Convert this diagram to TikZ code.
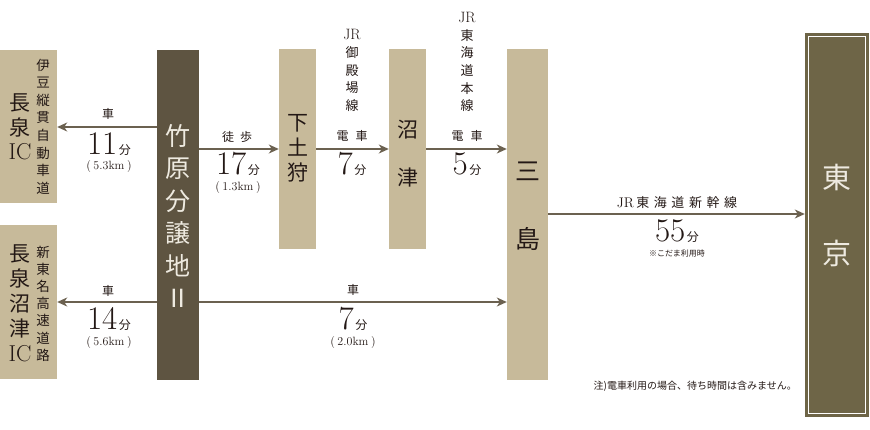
\documentclass[tikz,border=0pt]{standalone}
\usepackage{fontspec}
\newfontfamily\jp{Noto Sans CJK JP}
\usetikzlibrary{arrows.meta}
\definecolor{tanc}{HTML}{C7BA9A}
\definecolor{darkc}{HTML}{5E5441}
\definecolor{olivec}{HTML}{6E6547}
\definecolor{arrc}{HTML}{6B6150}
\definecolor{txtc}{HTML}{231815}
\definecolor{lightc}{HTML}{EEEAE0}
\newcommand{\bignum}[1]{{\fontsize{33}{33}\selectfont #1}\,{\jp\fontsize{12}{12}\selectfont 分}}
\newcommand{\distx}[1]{{\fontsize{12}{12}\selectfont (\hspace{2.5pt}#1\hspace{2.5pt})}}
\tikzset{
  rbox/.style={draw=none,inner sep=0pt,fill=#1},
  conn/.style={draw=arrc,line width=1.4pt,-{Stealth[length=10pt,width=9pt,inset=3pt]}},
  lbl/.style={inner sep=0pt,text=txtc,font=\jp\fontsize{12}{12}\selectfont},
  numl/.style={inner sep=0pt,text=txtc,anchor=base},
  vtext/.style={inner sep=0pt,align=center,text=txtc},
}
\begin{document}
\begin{tikzpicture}[x=1pt,y=-1pt]
\useasboundingbox (0,0) rectangle (870,430);
% boxes
\node[rbox=tanc,minimum width=57pt,minimum height=153pt] (ic1) at (28.5,126.5) {};
\node[rbox=tanc,minimum width=57pt,minimum height=154pt] (ic2) at (28.5,302) {};
\node[rbox=darkc,minimum width=42pt,minimum height=330pt] (site) at (178,215) {};
\node[rbox=tanc,minimum width=37pt,minimum height=200pt] (shimo) at (297.5,149) {};
\node[rbox=tanc,minimum width=37pt,minimum height=200pt] (numa) at (407.5,149) {};
\node[rbox=tanc,minimum width=41pt,minimum height=331pt] (mishima) at (527.5,214.5) {};
\node[rbox=olivec,minimum width=64pt,minimum height=384pt] (tokyo) at (837,225) {};
\draw[white,line width=0.9pt] ([shift={(3.5,3.5)}]tokyo.north west) rectangle ([shift={(-3.5,-3.5)}]tokyo.south east);
% box texts
\node[vtext,font=\jp\fontsize{21}{24.5}\selectfont] (ic1a) at (20,127) {長\\泉\\{\rmfamily\fontsize{23}{24}\selectfont IC}};
\node[vtext,font=\jp\fontsize{13.5}{17.6}\selectfont] (ic1b) at (43,126.5) {伊\\豆\\縦\\貫\\自\\動\\車\\道};
\node[vtext,font=\jp\fontsize{21}{25}\selectfont] (ic2a) at (20,303) {長\\泉\\沼\\津\\{\rmfamily\fontsize{23}{24}\selectfont IC}};
\node[vtext,font=\jp\fontsize{13.5}{17.2}\selectfont] (ic2b) at (43,303.5) {新\\東\\名\\高\\速\\道\\路};
\node[vtext,text=lightc,font=\jp\fontsize{25}{32.4}\selectfont] (sitet) at (178,216) {竹\\原\\分\\譲\\地\\Ⅱ};
\node[vtext,font=\jp\fontsize{21}{25}\selectfont] (shimot) at (297.5,148) {下\\土\\狩};
\node[vtext,font=\jp\fontsize{21}{48}\selectfont] (numat) at (407.5,154) {沼\\津};
\node[vtext,font=\jp\fontsize{25}{68}\selectfont] (misht) at (527.5,206) {三\\島};
\node[vtext,text=lightc,font=\jp\fontsize{29}{76}\selectfont] (tokyot) at (837,215) {東\\京};
% line names
\node[vtext,font=\jp\fontsize{13}{17.7}\selectfont] (gotemba) at (352,70.5) {{\rmfamily\fontsize{15}{15}\selectfont JR}\\御\\殿\\場\\線};
\node[vtext,font=\jp\fontsize{13}{17.6}\selectfont] (tokaido) at (467,62) {{\rmfamily\fontsize{15}{15}\selectfont JR}\\東\\海\\道\\本\\線};
% row coordinates
\coordinate (r1) at (0,127);
\coordinate (r2) at (0,149);
\coordinate (r3) at (0,302);
\coordinate (r4) at (0,214);
% connectors
\draw[conn] (site.west |- r1) -- (ic1.east |- r1);
\draw[conn] (site.west |- r3) -- (ic2.east |- r3);
\draw[conn] (site.east |- r2) -- (shimo.west |- r2);
\draw[conn] (shimo.east |- r2) -- (numa.west |- r2);
\draw[conn] (numa.east |- r2) -- (mishima.west |- r2);
\draw[conn] (site.east |- r3) -- (mishima.west |- r3);
\draw[conn] (mishima.east |- r4) -- (tokyo.west |- r4);
% labels
\node[lbl] (c1) at (108,114) {車};
\node[numl] (n1) at (109,155) {\bignum{11}};
\node[inner sep=0pt,text=txtc] (d1) at (109,167) {\distx{5.3km}};
\node[lbl] (c2) at (108,291) {車};
\node[numl] (n2) at (109,329) {\bignum{14}};
\node[inner sep=0pt,text=txtc] (d2) at (109,343) {\distx{5.6km}};
\node[lbl] (w1) at (237,137) {徒\hspace{6pt}歩};
\node[numl] (n3) at (238,175) {\bignum{17}};
\node[inner sep=0pt,text=txtc] (d3) at (238,188) {\distx{1.3km}};
\node[lbl] (e1) at (352,136) {電\hspace{7pt}車};
\node[numl] (n4) at (352,175) {\bignum{7}};
\node[lbl] (e2) at (467,136) {電\hspace{7pt}車};
\node[numl] (n5) at (467,175) {\bignum{5}};
\node[lbl] (c3) at (353,290) {車};
\node[numl] (n6) at (353,329) {\bignum{7}};
\node[inner sep=0pt,text=txtc] (d6) at (353,343) {\distx{2.0km}};
\node[inner sep=0pt,text=txtc,font=\fontsize{14}{14}\selectfont] (shk) at (677,203) {JR\,{\jp\fontsize{13}{13}\selectfont\addfontfeature{LetterSpace=35}東海道新幹線}};
\node[numl] (n7) at (677,242) {\bignum{55}};
\node[inner sep=0pt,text=txtc,font=\jp\fontsize{8}{8}\selectfont] (kodama) at (677,253) {※こだま利用時};
\node[inner sep=0pt,text=txtc,anchor=east,font=\jp\fontsize{10}{10}\selectfont] (note) at (797,386) {注)電車利用の場合、待ち時間は含みません。};
\end{tikzpicture}
\end{document}
